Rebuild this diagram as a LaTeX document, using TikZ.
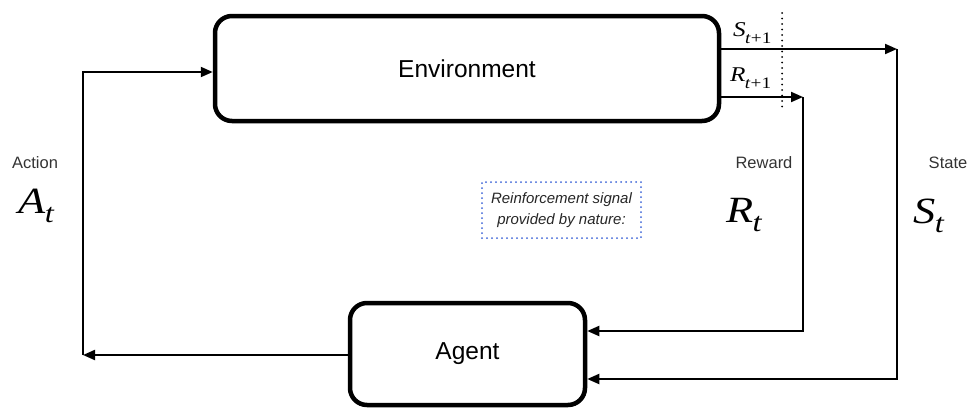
\documentclass[tikz,border=0pt]{standalone}
\usepackage{fontspec}
\usepackage{graphicx}
\setmainfont{Liberation Sans}
\newfontfamily\tms{Liberation Serif}
\usetikzlibrary{arrows.meta}

% Times-style symbol with subscript, widened a little:
% #1 size, #2 letter, #3 italic subscript, #4 upright tail, #5 sub size, #6 drop
\newcommand\symsub[6]{\scalebox{1.2}[1]{\tms\fontsize{#1}{#1}\selectfont\textit{#2}\kern-0.5pt\raisebox{-#6}{\fontsize{#5}{#5}\selectfont\textit{#3}#4}}}

\begin{document}
\begin{tikzpicture}[x=1pt,y=-1pt,
  block/.style={draw=black, line width=4.5pt, rounded corners=17pt, fill=white,
    inner sep=0pt, font=\fontsize{24.5}{28}\selectfont},
  link/.style={draw=black, line width=2pt},
  arr/.style={link, -{Triangle[length=12pt,width=10pt]}},
  lbl/.style={inner sep=0pt, font=\fontsize{16.5}{18}\selectfont, text=black!80},
  sym/.style={inner sep=0pt, anchor=base west}]

\useasboundingbox (0,0) rectangle (970,408);

% main blocks
\node[block, minimum width=504pt, minimum height=105pt] (env) at (467,68.5) {Environment};
\node[block, minimum width=235pt, minimum height=102pt] (agent) at (467.5,354) {Agent};

% action path on the left
\coordinate (actlow) at (83,355);
\coordinate (actup) at (83,72);
\draw[arr] (agent.west |- actlow) -- (actlow);
\draw[arr] (actlow) -- (actup) -- (env.west |- actup);

% state path on the right
\coordinate (stop) at (897,49);
\coordinate (sbot) at (897,379);
\draw[arr] (env.east |- stop) -- (stop);
\draw[arr] (stop) -- (sbot) -- (agent.east |- sbot);

% reward path
\coordinate (rtop) at (803,97);
\coordinate (rbot) at (803,331);
\draw[arr] (env.east |- rtop) -- (rtop);
\draw[arr] (rtop) -- (rbot) -- (agent.east |- rbot);

% time-step boundary
\coordinate (cuttop) at (782,13);
\coordinate (cutbot) at (782,111);
\draw[line width=2pt, line cap=round, dash pattern=on 0pt off 5.5pt] (cuttop) -- (cutbot);

% signal labels next to the environment
\node[sym] (snext) at (733,36) {\symsub{21}{S}{t}{+1}{16}{7pt}};
\node[sym] (rnext) at (730,81) {\symsub{21}{R}{t}{+1}{16}{7pt}};

% side labels
\node[lbl, anchor=base] (actlbl) at (35,168) {Action};
\node[sym] (asym) at (18,213) {\symsub{37}{A}{t}{}{27}{9pt}};
\node[lbl, anchor=base] (rwlbl) at (764,168) {Reward};
\node[sym] (rsym) at (726,222) {\symsub{37}{R}{t}{}{27}{9pt}};
\node[lbl, anchor=base] (stlbl) at (948,168) {State};
\node[sym] (ssym) at (913,223) {\symsub{37}{S}{t}{}{27}{9pt}};

% note box
\node[draw={rgb,255:red,60;green,100;blue,215}, line width=2pt, line cap=round,
  dash pattern=on 0pt off 5pt, minimum width=159pt, minimum height=56pt,
  align=center, inner sep=0pt, text=black!85,
  font=\fontsize{15}{21}\selectfont\itshape] (note) at (561.5,210)
  {Reinforcement signal\\provided by nature:};

\end{tikzpicture}
\end{document}
